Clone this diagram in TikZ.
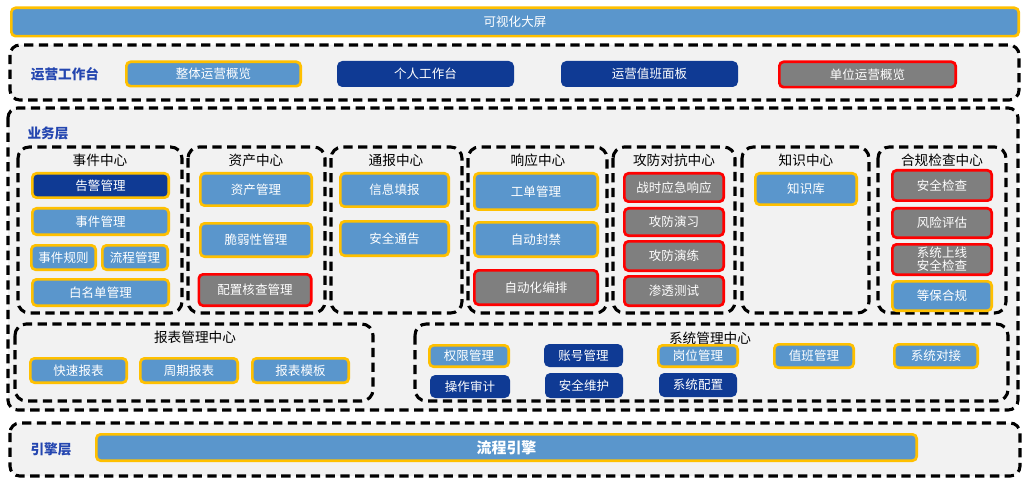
\documentclass[tikz,border=0pt]{standalone}
\usepackage{fontspec}
\setmainfont{Noto Sans CJK SC}
\usepackage{tikz}
\usetikzlibrary{positioning}

\definecolor{bgray}{HTML}{F2F2F2}
\definecolor{tileblue}{HTML}{5A96CC}
\definecolor{tilenavy}{HTML}{0F3A94}
\definecolor{tilegray}{HTML}{7F7F7F}
\definecolor{tileorange}{HTML}{FFC000}
\definecolor{tilered}{HTML}{FF0000}
\definecolor{labelblue}{HTML}{2446B0}

\newcommand{\tilefont}{\fontsize{8.9}{9.4}\selectfont}
\newcommand{\headfont}{\fontsize{9.7}{11}\selectfont}

\tikzset{
  layer/.style={draw=black, line width=2.2pt, dash pattern=on 6.6pt off 3.9pt, rounded corners=7pt, fill=bgray},
  group/.style={draw=black, line width=2.2pt, dash pattern=on 6.6pt off 3.9pt, rounded corners=8pt},
  tile/.style 2 args={rounded corners=3pt, line width=1.9pt, inner sep=0pt, align=center,
    minimum width=#1*0.025cm-1.9pt, minimum height=#2*0.025cm-1.9pt, text=white, font=\tilefont},
  bluebox/.style={fill=tileblue, draw=tileorange},
  navybox/.style={fill=tilenavy, draw=tilenavy},
  alertbox/.style={fill=tilenavy, draw=tileorange},
  graybox/.style={fill=tilegray, draw=tilered},
  layername/.style={text=labelblue, font=\headfont\bfseries},
  grouptitle/.style={font=\headfont},
}

\begin{document}
\begin{tikzpicture}[x=0.025cm, y=-0.025cm]
    \useasboundingbox[fill=white] (0,0) rectangle (1032,485);
    % Top screen bar
    \node[tile={1010}{31}, bluebox] (screen) at (515,22) {可视化大屏};

    % Operation workbench layer
    \draw[layer] (10,45) rectangle (1019,100);
    \node[layername] (opsLabel) at (65,74) {运营工作台};
    \node[tile={177}{27}, bluebox] (opsOverview) at (213.5,74) {整体运营概览};
    \node[tile={177}{26}, navybox] (personal) at (425.5,74) {个人工作台};
    \node[tile={177}{26}, navybox] (dutyPanel) at (649.5,74) {运营值班面板};
    \node[tile={179}{28}, graybox] (unitOverview) at (867.5,74.5) {单位运营概览};

    % Business layer
    \draw[layer] (8,108) rectangle (1018,410);
    \node[layername] (bizLabel) at (48,133) {业务层};
    \draw[group] (18,147) rectangle (182,313);
    \draw[group] (188,147) rectangle (325,313);
    \draw[group] (331,147) rectangle (462,313);
    \draw[group] (468,147) rectangle (607,313);
    \draw[group] (613,147) rectangle (735,313);
    \draw[group] (742,147) rectangle (869,313);
    \draw[group] (878,147) rectangle (1006,313);

    % Event center
    \node[grouptitle] (eventTitle) at (100,160) {事件中心};
    \node[tile={139}{27}, alertbox] (alarmMgmt) at (100.5,185.5) {告警管理};
    \node[tile={139}{29}, bluebox] (eventMgmt) at (100.5,221.5) {事件管理};
    \node[tile={67}{27}, bluebox] (eventRule) at (63.5,257.5) {事件规则};
    \node[tile={68}{27}, bluebox] (flowMgmt) at (135,257.5) {流程管理};
    \node[tile={139}{29}, bluebox] (whitelist) at (100.5,292.5) {白名单管理};

    % Asset center
    \node[grouptitle] (assetTitle) at (256,160) {资产中心};
    \node[tile={114}{35}, bluebox] (assetMgmt) at (256,189.5) {资产管理};
    \node[tile={114}{36}, bluebox] (vulnMgmt) at (256,240) {脆弱性管理};
    \node[tile={115}{34}, graybox] (configCheck) at (255,290) {配置核查管理};

    % Notice center
    \node[grouptitle] (noticeTitle) at (396,160) {通报中心};
    \node[tile={111}{36}, bluebox] (infoReport) at (394.5,190) {信息填报};
    \node[tile={111}{37}, bluebox] (secNotice) at (394.5,238.5) {安全通告};

    % Response center
    \node[grouptitle] (respTitle) at (538,160) {响应中心};
    \node[tile={126}{39}, bluebox] (ticketMgmt) at (536,191.5) {工单管理};
    \node[tile={126}{37}, bluebox] (autoBlock) at (536,239.5) {自动封禁};
    \node[tile={126}{37}, graybox] (autoOrch) at (536,287.5) {自动化编排};

    % Attack and defense center
    \node[grouptitle] (attackTitle) at (674,160) {攻防对抗中心};
    \node[tile={102}{31}, graybox] (wartime) at (674,187.5) {战时应急响应};
    \node[tile={102}{30}, graybox] (attackExercise) at (674,222) {攻防演习};
    \node[tile={102}{32}, graybox] (attackDrill) at (674,256) {攻防演练};
    \node[tile={102}{32}, graybox] (pentest) at (674,291) {渗透测试};

    % Knowledge center
    \node[grouptitle] (knowTitle) at (806,160) {知识中心};
    \node[tile={104}{34}, bluebox] (knowBase) at (806,189) {知识库};

    % Compliance center
    \node[grouptitle] (compTitle) at (942,160) {合规检查中心};
    \node[tile={102}{33}, graybox] (secCheck) at (942,185.5) {安全检查};
    \node[tile={102}{32}, graybox] (riskAssess) at (942,223) {风险评估};
    \node[tile={102}{33}, graybox] (launchCheck) at (942,259.5) {系统上线\\安全检查};
    \node[tile={102}{32}, bluebox] (mlps) at (942,296) {等保合规};

    % Report center
    \draw[group] (15,324) rectangle (373,401);
    \node[grouptitle] (reportTitle) at (195,337) {报表管理中心};
    \node[tile={99}{27}, bluebox] (quickReport) at (78.5,370.5) {快速报表};
    \node[tile={100}{27}, bluebox] (periodReport) at (189,370.5) {周期报表};
    \node[tile={99}{27}, bluebox] (reportTpl) at (300.5,370.5) {报表模板};

    % System center
    \draw[group] (415,324) rectangle (1008,401);
    \node[grouptitle] (sysTitle) at (710,338) {系统管理中心};
    \node[tile={82}{24}, bluebox] (permMgmt) at (469,356) {权限管理};
    \node[tile={79}{23}, navybox] (accountMgmt) at (583.5,355.5) {账号管理};
    \node[tile={82}{24}, bluebox] (postMgmt) at (698,356) {岗位管理};
    \node[tile={82}{26}, bluebox] (dutyMgmt) at (814,356) {值班管理};
    \node[tile={86}{26}, bluebox] (sysLink) at (936,356) {系统对接};
    \node[tile={80}{23}, navybox] (opAudit) at (470,386.5) {操作审计};
    \node[tile={78}{25}, navybox] (secMaint) at (584,385.5) {安全维护};
    \node[tile={78}{24}, navybox] (sysConfig) at (698,385) {系统配置};

    % Engine layer
    \draw[layer] (10,423) rectangle (1020,476);
    \node[layername] (engineLabel) at (51,449) {引擎层};
    \node[tile={823}{29}, bluebox, font=\fontsize{10.6}{12}\selectfont\bfseries] (flowEngine) at (506.5,447.5) {流程引擎};
\end{tikzpicture}
\end{document}
